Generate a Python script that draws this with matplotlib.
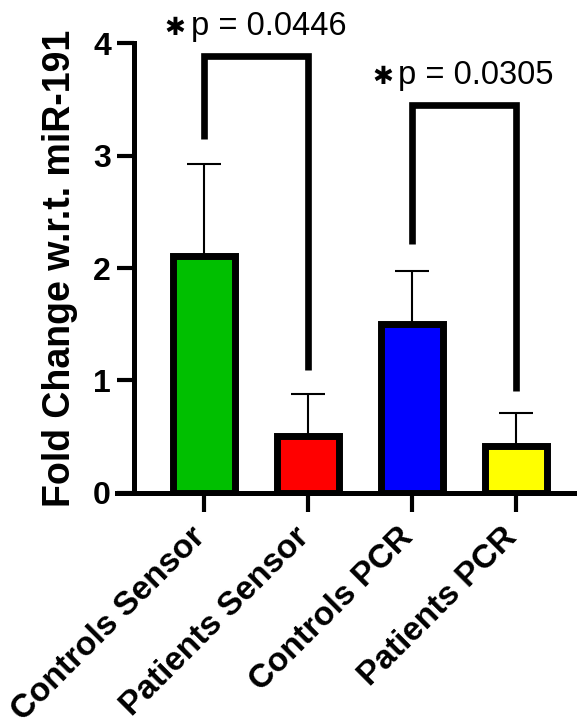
import matplotlib.pyplot as plt
import matplotlib.transforms as mtransforms
import numpy as np

plt.rcParams['font.family'] = ['Liberation Sans', 'DejaVu Sans']

grupos = ['Controls Sensor', 'Patients Sensor', 'Controls PCR', 'Patients PCR']
media = [2.11, 0.505, 1.50, 0.415]
error = [0.815, 0.37, 0.47, 0.29]
colores = ['#00BF00', '#FF0000', '#0000FF', '#FFFF00']

# comparaciones: (grupo a, grupo b, altura, bajada izq, bajada der, texto)
comparaciones = [
    (0, 1, 3.89, 3.15, 1.09, 'p = 0.0446'),
    (2, 3, 3.45, 2.21, 0.90, 'p = 0.0305'),
]

fig = plt.figure(figsize=(5.77, 7.26), dpi=100)
ax = fig.add_axes([0.2322, 0.3216, 0.7678, 0.6185])

x = np.arange(len(grupos))
ax.bar(x, media, width=0.6, color=colores, edgecolor='black', linewidth=5, zorder=3)
ax.errorbar(x, media, yerr=[np.zeros(len(error)), error], fmt='none', ecolor='black',
            elinewidth=1.5, capsize=12, capthick=1.5, zorder=2)

for a, b, alto, izq, der, texto in comparaciones:
    ax.plot([a, a, b, b], [izq, alto, alto, der], color='black', linewidth=4.8,
            solid_joinstyle='miter', solid_capstyle='butt', clip_on=False, zorder=4)
    centro = (a + b) / 2
    ax.text(centro + 0.12, alto + 0.19, texto, ha='center', va='baseline',
            fontsize=23.5, clip_on=False)
    ax.text(centro - 0.78, alto + 0.25, '\u2731', ha='center', va='center',
            fontsize=18, family='DejaVu Sans', clip_on=False)

ax.set_xlim(-0.674, 3.59)
ax.set_ylim(0, 4)
ax.set_yticks([0, 1, 2, 3, 4])
ax.set_xticks(x)
ax.set_xticklabels(grupos, rotation=45, ha='right', va='top', rotation_mode='anchor',
                   fontsize=24, fontweight='bold')
for lbl in ax.get_yticklabels():
    lbl.set_fontweight('bold')
    lbl.set_fontsize(23)

ax.spines['top'].set_visible(False)
ax.spines['right'].set_visible(False)
ax.spines['left'].set_linewidth(3.6)
ax.spines['bottom'].set_linewidth(3.6)
ax.spines['bottom'].set_bounds(-0.837, 3.59)
ax.tick_params(axis='y', length=12.5, width=3, pad=4)
ax.tick_params(axis='x', length=14, width=3, pad=7)

# etiquetas del eje x un poco a la izquierda (después de tick_params, que reinicia el transform)
desplazamiento = mtransforms.ScaledTranslation(-14 / 100, 0, fig.dpi_scale_trans)
for lbl in ax.get_xticklabels():
    lbl.set_transform(lbl.get_transform() + desplazamiento)

ax.set_ylabel('Fold Change w.r.t. miR-191', fontsize=27, fontweight='bold')
ax.yaxis.set_label_coords(-0.127, 0.5)

fig.savefig('out.png', dpi=100)
